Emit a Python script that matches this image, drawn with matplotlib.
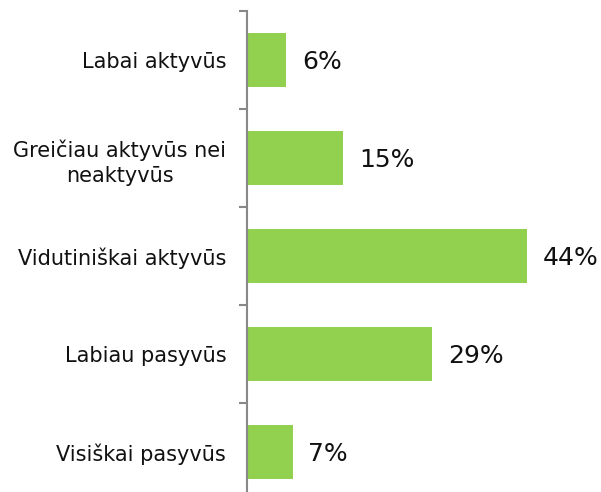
import matplotlib.pyplot as plt
import numpy as np

categories = ["Labai aktyvūs", "Greičiau aktyvūs nei\nneaktyvūs", "Vidutiniškai aktyvūs",
              "Labiau pasyvūs", "Visiškai pasyvūs"]
values = [6, 15, 44, 29, 7]
value_labels = ["6%", "15%", "44%", "29%", "7%"]

fig = plt.figure(figsize=(6.01, 4.92), dpi=100)
ax = fig.add_axes([247 / 601, 1 - 501 / 492, (564 - 247) / 601, 490 / 492])

y = np.arange(len(categories))
ax.barh(y, values, height=0.56, color="#92D050", left=0.2)
ax.set_ylim(len(categories) - 0.5, -0.5)
ax.set_xlim(0, 50)

for yi, v, lab in zip(y, values, value_labels):
    ax.text(v + 2.7, yi + 0.02, lab, va="center", ha="left", fontsize=18, color="#111111")

ax.set_yticks(y)
ax.set_yticklabels(categories, fontsize=15, color="#111111", ha="right",
                   multialignment="center", linespacing=1.35)
ax.tick_params(axis="y", which="major", length=0, pad=15)
ax.set_yticks(np.arange(-0.5, len(categories), 1), minor=True)
ax.tick_params(axis="y", which="minor", length=6, width=1.5, color="#888888")
ax.set_xticks([])

for s in ["top", "right", "bottom"]:
    ax.spines[s].set_visible(False)
ax.spines["left"].set_color("#888888")
ax.spines["left"].set_linewidth(1.5)

fig.savefig("out.png", dpi=100)
